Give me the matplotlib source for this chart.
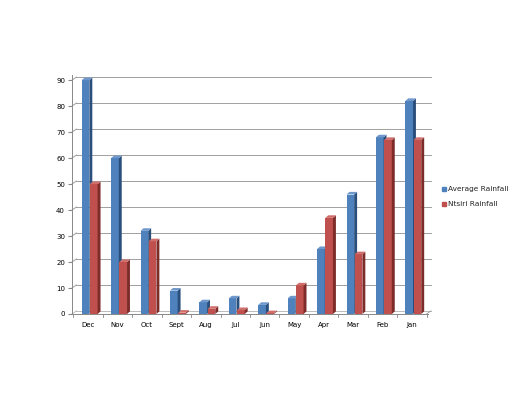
import matplotlib
matplotlib.use("Agg")
import matplotlib.pyplot as plt
from matplotlib.patches import Polygon, Rectangle
import numpy as np

months = ["Dec", "Nov", "Oct", "Sept", "Aug", "Jul", "Jun", "May", "Apr", "Mar", "Feb", "Jan"]
average = [90, 60, 32, 9, 4.5, 6, 3.5, 6, 25, 46, 68, 82]
nitsiri = [50, 20, 28, 0.5, 2, 1.5, 0.3, 11, 37, 23, 67, 67]

blue, blue_side, blue_top = "#4F81BD", "#2B4F7C", "#6E98CC"
red, red_side, red_top = "#C0504D", "#7E2C29", "#D06E6B"

fig = plt.figure(figsize=(5.28, 3.96), dpi=100)
ax = fig.add_axes([72/528, (396-314)/396, 356/528, (314-75)/396])

x = np.arange(len(months))
w = 0.26
dx, dy = 0.1, 1.0

def draw(xs, vals, face, side, top):
    ax.bar(xs, vals, width=w, color=face, zorder=3, linewidth=0)
    for xi, h in zip(xs, vals):
        ax.add_patch(Polygon([(xi + w/2, 0), (xi + w/2 + dx, dy), (xi + w/2 + dx, h + dy), (xi + w/2, h)],
                             closed=True, facecolor=side, edgecolor="none", zorder=3))
        ax.add_patch(Polygon([(xi - w/2, h), (xi - w/2 + dx, h + dy), (xi + w/2 + dx, h + dy), (xi + w/2, h)],
                             closed=True, facecolor=top, edgecolor="none", zorder=3))

draw(x - 0.09, average, blue, blue_side, blue_top)
draw(x + 0.19, nitsiri, red, red_side, red_top)

ax.set_xlim(-0.55, 11.55)
ax.set_ylim(0, 92)
ax.set_yticks(range(0, 91, 10))
ax.set_xticks(x)
ax.set_xticklabels(months, fontsize=5)
ax.tick_params(axis="y", labelsize=5, length=3, color="#888888", pad=2)
ax.tick_params(axis="x", length=0, pad=6)
for b in np.arange(-0.5, 12, 1):
    ax.plot([b, b], [0, -1.2], color="#888888", lw=0.6, clip_on=False)
for yv in range(0, 91, 10):
    col = "#BBBBBB" if yv == 0 else "#A0A0A0"
    ax.plot([-0.55, -0.4], [yv, yv + 1.2], color=col, lw=0.7, zorder=1, clip_on=False)
    ax.plot([-0.4, 11.65], [yv + 1.2, yv + 1.2], color=col, lw=0.7, zorder=1, clip_on=False)
ax.plot([11.5, 11.65], [0, 1.2], color="#999999", lw=0.6, clip_on=False)
for s in ["top", "right"]:
    ax.spines[s].set_visible(False)
ax.spines["left"].set_color("#888888")
ax.spines["bottom"].set_color("#888888")
ax.spines["left"].set_linewidth(0.7)
ax.spines["bottom"].set_linewidth(0.7)

fig.text(448/528, 1 - 189/396, "Average Rainfall", fontsize=5.3, va="center", color="#222222")
fig.text(448/528, 1 - 204/396, "Ntsiri Rainfall", fontsize=5.3, va="center", color="#222222")
fig.patches.append(Rectangle((442/528, 1 - 191/396), 4/528, 4/396, transform=fig.transFigure, color=blue))
fig.patches.append(Rectangle((442/528, 1 - 206/396), 4/528, 4/396, transform=fig.transFigure, color=red))

fig.savefig("out.png", dpi=100)
